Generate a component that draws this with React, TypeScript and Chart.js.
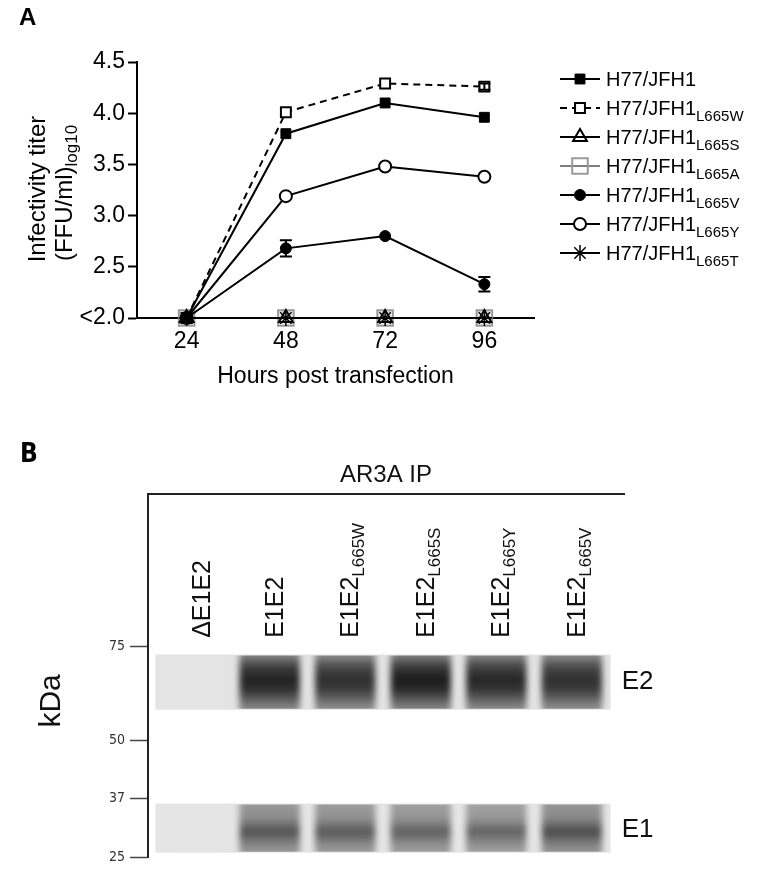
import React, { useEffect, useRef } from 'react';
import { Chart, registerables } from 'chart.js';
import { drawPoint } from 'chart.js/helpers';

Chart.register(...registerables);

const FONT = '"Liberation Sans", Arial, Helvetica, sans-serif';
const NARROW = '"Liberation Sans Narrow", "DejaVu Sans Condensed", "Liberation Sans", sans-serif';

// ---------- Panel A data ----------
const hours = [24, 48, 72, 96];
const yTicks = [2.0, 2.5, 3.0, 3.5, 4.0, 4.5];
const seriesBase = ['H77/JFH1', 'H77/JFH1', 'H77/JFH1', 'H77/JFH1', 'H77/JFH1', 'H77/JFH1', 'H77/JFH1'];
const seriesSub = ['', 'L665W', 'L665S', 'L665A', 'L665V', 'L665Y', 'L665T'];
const h77 = [2.0, 3.80, 4.10, 3.96];
const l665w = [2.0, 4.01, 4.29, 4.26];
const l665s = [2.0, 2.0, 2.0, 2.0];
const l665a = [2.0, 2.0, 2.0, 2.0];
const l665v = [2.0, 2.68, 2.80, 2.33];
const l665y = [2.0, 3.19, 3.48, 3.38];
const l665t = [2.0, 2.0, 2.0, 2.0];
const l665vErr = [0, 0.08, 0, 0.07];
const l665wErr = [0, 0, 0, 0.03];

// ---------- Panel B data ----------
const laneBase = ['\u0394E1E2', 'E1E2', 'E1E2', 'E1E2', 'E1E2', 'E1E2'];
const laneSub = ['', '', 'L665W', 'L665S', 'L665Y', 'L665V'];
const lanes = [0, 1, 2, 3, 4, 5];
const markerKDa = [75, 50, 37, 25];
const markerPos = [0, 95, 154, 214]; // relative migration distance of ladder bands
const e2Intensity = [0, 0.92, 0.86, 0.95, 0.9, 0.86];
const e1Intensity = [0, 0.86, 0.82, 0.78, 0.76, 0.9];
const e2Range = [9, 63];
const e1Range = [160, 208];

const toXY = (vals: number[]) => hours.map((h, i) => ({ x: h, y: vals[i] }));

function PanelA() {
  const ref = useRef<HTMLCanvasElement>(null);
  useEffect(() => {
    const datasets: any[] = [
      { label: 'H77/JFH1', data: toXY(h77), borderColor: '#000', borderWidth: 2, pointStyle: 'rect', pointRadius: 7, pointBackgroundColor: '#000', pointBorderColor: '#000', pointBorderWidth: 1 },
      { label: 'H77/JFH1 L665W', data: toXY(l665w), errors: l665wErr, borderColor: '#000', borderWidth: 2, borderDash: [7, 5], pointStyle: 'rect', pointRadius: 7, pointBackgroundColor: '#fff', pointBorderColor: '#000', pointBorderWidth: 2 },
      { label: 'H77/JFH1 L665S', data: toXY(l665s), borderColor: '#000', borderWidth: 2, pointStyle: 'triangle', pointRadius: 8, pointBackgroundColor: 'rgba(0,0,0,0)', pointBorderColor: '#000', pointBorderWidth: 2 },
      { label: 'H77/JFH1 L665A', data: toXY(l665a), borderColor: '#000', borderWidth: 1, pointStyle: 'rect', pointRadius: 11, pointBackgroundColor: 'rgba(190,190,190,0.35)', pointBorderColor: '#9a9a9a', pointBorderWidth: 2, legendFill: 'rgba(0,0,0,0)', order: 10 },
      { label: 'H77/JFH1 L665V', data: toXY(l665v), errors: l665vErr, borderColor: '#000', borderWidth: 2, pointStyle: 'circle', pointRadius: 5.5, pointBackgroundColor: '#000', pointBorderColor: '#000', pointBorderWidth: 1 },
      { label: 'H77/JFH1 L665Y', data: toXY(l665y), borderColor: '#000', borderWidth: 2, pointStyle: 'circle', pointRadius: 6, pointBackgroundColor: '#fff', pointBorderColor: '#000', pointBorderWidth: 2 },
      { label: 'H77/JFH1 L665T', data: toXY(l665t), borderColor: '#000', borderWidth: 2, pointStyle: 'star', pointRadius: 8, pointBackgroundColor: '#000', pointBorderColor: '#000', pointBorderWidth: 1.5 },
    ];
    datasets.forEach((d) => { d.clip = false; d.tension = 0; d.fill = false; d.pointHoverRadius = d.pointRadius; });

    const decor = {
      id: 'decorA',
      afterDatasetsDraw(chart: any) {
        const { ctx, scales } = chart;
        const xs = scales.x, ys = scales.y;
        ctx.save();
        ctx.strokeStyle = '#000';
        ctx.lineWidth = 2;
        ctx.setLineDash([]);
        chart.data.datasets.forEach((ds: any) => {
          if (!ds.errors) return;
          ds.errors.forEach((e: number, i: number) => {
            if (!e) return;
            const px = xs.getPixelForValue(ds.data[i].x);
            const y1 = ys.getPixelForValue(ds.data[i].y + e);
            const y2 = ys.getPixelForValue(ds.data[i].y - e);
            ctx.beginPath();
            ctx.moveTo(px, y1); ctx.lineTo(px, y2);
            ctx.moveTo(px - 6, y1); ctx.lineTo(px + 6, y1);
            ctx.moveTo(px - 6, y2); ctx.lineTo(px + 6, y2);
            ctx.stroke();
          });
        });
        ctx.restore();
      },
      afterDraw(chart: any) {
        const { ctx } = chart;
        ctx.save();
        ctx.fillStyle = '#000';
        ctx.font = `bold 24px ${FONT}`;
        ctx.textAlign = 'left';
        ctx.textBaseline = 'top';
        ctx.fillText('A', 19, 6);
        ctx.save();
        ctx.translate(38, 189);
        ctx.rotate(-Math.PI / 2);
        ctx.font = `24px ${FONT}`;
        ctx.textAlign = 'center';
        ctx.textBaseline = 'middle';
        ctx.fillText('Infectivity titer', 0, 0);
        ctx.restore();
        ctx.save();
        ctx.translate(64, 193);
        ctx.rotate(-Math.PI / 2);
        ctx.font = `24px ${FONT}`;
        const w1 = ctx.measureText('(FFU/ml)').width;
        ctx.font = `17px ${FONT}`;
        const w2 = ctx.measureText('log10').width;
        const start = -(w1 + w2) / 2;
        ctx.textAlign = 'left';
        ctx.textBaseline = 'alphabetic';
        ctx.font = `24px ${FONT}`;
        ctx.fillText('(FFU/ml)', start, 8);
        ctx.font = `17px ${FONT}`;
        ctx.fillText('log10', start + w1, 13);
        ctx.restore();
        chart.data.datasets.forEach((ds: any, i: number) => {
          const y = 79 + 29 * i;
          ctx.save();
          ctx.strokeStyle = '#000';
          ctx.lineWidth = ds.borderWidth;
          ctx.setLineDash(ds.borderDash || []);
          ctx.beginPath();
          ctx.moveTo(560, y); ctx.lineTo(600, y);
          ctx.stroke();
          ctx.setLineDash([]);
          ctx.fillStyle = ds.legendFill || ds.pointBackgroundColor;
          ctx.strokeStyle = ds.pointBorderColor;
          ctx.lineWidth = ds.pointBorderWidth;
          drawPoint(ctx, { pointStyle: ds.pointStyle, radius: ds.pointRadius, rotation: 0, borderWidth: ds.pointBorderWidth }, 580, y);
          ctx.restore();
          ctx.fillStyle = '#000';
          ctx.textAlign = 'left';
          ctx.textBaseline = 'alphabetic';
          ctx.font = `20px ${FONT}`;
          ctx.fillText(seriesBase[i], 606, y + 7);
          if (seriesSub[i]) {
            const w = ctx.measureText(seriesBase[i]).width;
            ctx.font = `15px ${FONT}`;
            ctx.fillText(seriesSub[i], 606 + w, y + 13);
          }
        });
        ctx.restore();
      },
    };

    const chart = new Chart(ref.current as HTMLCanvasElement, {
      type: 'line',
      data: { datasets },
      options: {
        animation: false,
        responsive: false,
        devicePixelRatio: 1,
        layout: { padding: { left: 0, top: 62, right: 240, bottom: 0 } },
        plugins: { legend: { display: false }, tooltip: { enabled: false }, title: { display: false } },
        scales: {
          x: {
            type: 'linear', min: 12, max: 108,
            afterBuildTicks: (s: any) => { s.ticks = hours.map((v) => ({ value: v })); },
            afterFit: (s: any) => { s.height = 82; },
            grid: { display: false, drawTicks: false },
            border: { display: true, color: '#000', width: 2 },
            ticks: { font: { family: FONT, size: 23 }, color: '#000', padding: 10 },
            title: { display: true, text: 'Hours post transfection', font: { family: FONT, size: 23 }, color: '#000', padding: { top: 0, bottom: 10 } },
          },
          y: {
            type: 'linear', min: 2, max: 4.5,
            afterBuildTicks: (s: any) => { s.ticks = yTicks.map((v) => ({ value: v })); },
            afterFit: (s: any) => { s.width = 137; },
            grid: { display: true, drawOnChartArea: false, drawTicks: true, tickLength: 9, tickWidth: 2, tickColor: '#000' },
            border: { display: true, color: '#000', width: 2 },
            ticks: { font: { family: FONT, size: 23 }, color: '#000', padding: 3, callback: (v: any) => (v === 2 ? '<2.0' : Number(v).toFixed(1)) },
          },
        },
      } as any,
      plugins: [decor],
    });
    return () => chart.destroy();
  }, []);
  return <canvas ref={ref} width={774} height={400} style={{ position: 'absolute', left: 0, top: 0, width: 774, height: 400 }} />;
}

const e2Profile: [number, number][] = [[0, 0.45], [0.2, 0.78], [0.45, 0.93], [0.65, 0.85], [0.85, 0.6], [1, 0.42]];
const e1Profile: [number, number][] = [[0, 0.38], [0.3, 0.45], [0.58, 0.76], [0.8, 0.52], [1, 0.38]];
const BG = 228;

const bandColor = (profile: [number, number][], intens: number[], range: number[]) => (c: any) => {
  const chart = c.chart;
  const y = chart.scales && chart.scales.y;
  if (!y || c.dataIndex === undefined) return `rgb(${BG},${BG},${BG})`;
  const k = intens[c.dataIndex];
  const top = y.getPixelForValue(range[0]);
  const bot = y.getPixelForValue(range[1]);
  if (!isFinite(top) || !isFinite(bot) || top === bot) return `rgb(${BG},${BG},${BG})`;
  const g = chart.ctx.createLinearGradient(0, top, 0, bot);
  profile.forEach(([t, d]) => {
    const v = Math.round(BG - BG * k * d);
    g.addColorStop(t, `rgb(${v},${v},${v})`);
  });
  return g;
};

function PanelB() {
  const ref = useRef<HTMLCanvasElement>(null);
  useEffect(() => {
    const datasets: any[] = [
      { label: 'E2 band', data: lanes.map((i) => ({ x: i, y: [e2Range[0] - 6, e2Range[1] + 6] })), backgroundColor: bandColor(e2Profile, e2Intensity, e2Range), barPercentage: 0.8, categoryPercentage: 1, blur: 3, clipRange: e2Range, order: 0 },
      { label: 'E1 band', data: lanes.map((i) => ({ x: i, y: [e1Range[0] - 6, e1Range[1] + 6] })), backgroundColor: bandColor(e1Profile, e1Intensity, e1Range), barPercentage: 0.8, categoryPercentage: 1, blur: 3, clipRange: e1Range, order: 0 },
      { label: 'E2 strip', data: lanes.map((i) => ({ x: i, y: e2Range })), backgroundColor: `rgb(${BG},${BG},${BG})`, barPercentage: 1, categoryPercentage: 1, inflateAmount: 1, order: 5 },
      { label: 'E1 strip', data: lanes.map((i) => ({ x: i, y: e1Range })), backgroundColor: `rgb(${BG + 2},${BG + 2},${BG + 2})`, barPercentage: 1, categoryPercentage: 1, inflateAmount: 1, order: 5 },
    ];
    datasets.forEach((d) => { d.grouped = false; d.borderWidth = 0; });

    const blurPlugin = {
      id: 'blurBands',
      beforeDatasetDraw(chart: any, args: any) {
        const ds = chart.data.datasets[args.index];
        if (!ds.blur) return;
        const { ctx, scales, chartArea } = chart;
        const t = scales.y.getPixelForValue(ds.clipRange[0]);
        const b = scales.y.getPixelForValue(ds.clipRange[1]);
        ctx.save();
        ctx.beginPath();
        ctx.rect(chartArea.left, t, chartArea.right - chartArea.left, b - t);
        ctx.clip();
        ctx.filter = `blur(${ds.blur}px)`;
      },
      afterDatasetDraw(chart: any, args: any) {
        const ds = chart.data.datasets[args.index];
        if (!ds.blur) return;
        chart.ctx.restore();
      },
    };

    const decor = {
      id: 'decorB',
      afterDraw(chart: any) {
        const { ctx, scales, chartArea } = chart;
        const xs = scales.x, ys = scales.y;
        ctx.save();
        ctx.fillStyle = '#000';
        ctx.font = `bold 26px "DejaVu Sans Condensed", ${FONT}`;
        ctx.textAlign = 'left';
        ctx.textBaseline = 'top';
        ctx.fillText('B', 20, 12);
        ctx.fillStyle = '#111';
        ctx.font = `24px ${FONT}`;
        ctx.textAlign = 'center';
        ctx.textBaseline = 'middle';
        ctx.fillText('AR3A IP', (chartArea.left + chartArea.right) / 2, chartArea.top - 19);
        ctx.save();
        ctx.translate(52, ys.getPixelForValue(55));
        ctx.rotate(-Math.PI / 2);
        ctx.font = `30px ${FONT}`;
        ctx.fillText('kDa', 0, 0);
        ctx.restore();
        const bottomY = ys.getPixelForValue(-9);
        lanes.forEach((i) => {
          const px = xs.getPixelForValue(i) + (i === 0 ? 7 : 4);
          ctx.save();
          ctx.translate(px, bottomY);
          ctx.rotate(-Math.PI / 2);
          ctx.textAlign = 'left';
          ctx.textBaseline = 'alphabetic';
          ctx.font = `25px ${FONT}`;
          ctx.fillText(laneBase[i], 0, 9);
          if (laneSub[i]) {
            const w = ctx.measureText(laneBase[i]).width;
            ctx.font = `17px ${FONT}`;
            ctx.fillText(laneSub[i], w, 15);
          }
          ctx.restore();
        });
        ctx.font = `26px ${FONT}`;
        ctx.textAlign = 'left';
        ctx.textBaseline = 'middle';
        const rx = xs.getPixelForValue(5.5) + 12;
        ctx.fillText('E2', rx, ys.getPixelForValue((e2Range[0] + e2Range[1]) / 2));
        ctx.fillText('E1', rx, ys.getPixelForValue((e1Range[0] + e1Range[1]) / 2 + 2));
        ctx.restore();
      },
    };

    const chart = new Chart(ref.current as HTMLCanvasElement, {
      type: 'bar',
      data: { datasets },
      options: {
        animation: false,
        responsive: false,
        devicePixelRatio: 1,
        layout: { padding: { left: 0, top: 64, right: 150, bottom: 8 } },
        plugins: { legend: { display: false }, tooltip: { enabled: false }, title: { display: false } },
        scales: {
          x: {
            type: 'linear', position: 'top', min: -0.61, max: 5.69, offset: false,
            afterBuildTicks: (s: any) => { s.ticks = lanes.map((v) => ({ value: v })); },
            ticks: { display: false },
            grid: { display: false, drawTicks: false },
            border: { display: true, color: '#222', width: 2 },
            afterFit: (s: any) => { s.height = 0; },
          },
          y: {
            type: 'linear', reverse: true, min: -155, max: 214,
            afterBuildTicks: (s: any) => { s.ticks = markerPos.map((v) => ({ value: v })); },
            afterFit: (s: any) => { s.width = 148; },
            ticks: { font: { family: NARROW, size: 14 }, color: '#333', padding: 5, callback: (_v: any, idx: number) => String(markerKDa[idx]) },
            grid: { display: true, drawOnChartArea: false, drawTicks: true, tickLength: 18, tickWidth: 1.5, tickColor: '#444' },
            border: { display: true, color: '#222', width: 2 },
          },
        },
      } as any,
      plugins: [blurPlugin, decor],
    });
    return () => chart.destroy();
  }, []);
  return <canvas ref={ref} width={774} height={441} style={{ position: 'absolute', left: 0, top: 430, width: 774, height: 441 }} />;
}

export default function App() {
  return (
    <div style={{ position: 'absolute', left: 0, top: 0, width: 774, height: 871, background: '#fff', overflow: 'hidden' }}>
      <PanelA />
      <PanelB />
    </div>
  );
}
